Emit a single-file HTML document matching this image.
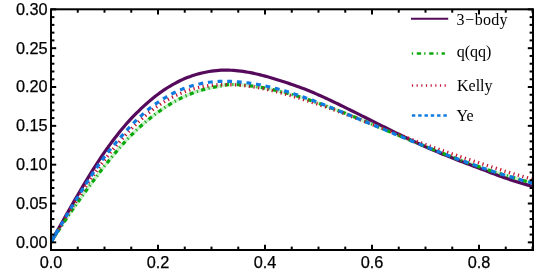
<!DOCTYPE html>
<html><head><meta charset="utf-8"><title>plot</title>
<style>
html,body{margin:0;padding:0;background:#fff;}
body{width:556px;height:278px;overflow:hidden;}
svg{display:block;will-change:transform;}
.tk text{font-family:"Liberation Sans",sans-serif;font-size:16.3px;fill:#000;stroke:#000;stroke-width:0.25px;}
.lg text{font-family:"Liberation Serif",serif;font-size:16px;fill:#000;}
</style></head><body>
<svg width="556" height="278" viewBox="0 0 556 278">
<rect width="556" height="278" fill="#fff"/>
<defs><clipPath id="cp"><rect x="51.0" y="9.3" width="482.0" height="240.7"/></clipPath></defs>
<g clip-path="url(#cp)" fill="none" stroke-linejoin="round">
<path d="M51.00 242.00 L53.43 238.29 L55.87 234.56 L58.30 230.83 L60.73 227.11 L63.17 223.41 L65.60 219.75 L68.03 216.15 L70.46 212.62 L72.90 209.13 L75.33 205.67 L77.76 202.24 L80.20 198.83 L82.63 195.45 L85.06 192.09 L87.50 188.76 L89.93 185.44 L92.36 182.15 L94.79 178.87 L97.23 175.61 L99.66 172.40 L102.09 169.22 L104.53 166.08 L106.96 162.99 L109.39 159.94 L111.83 156.95 L114.26 154.01 L116.69 151.12 L119.13 148.29 L121.56 145.53 L123.99 142.82 L126.42 140.18 L128.86 137.62 L131.29 135.12 L133.72 132.71 L136.16 130.36 L138.59 128.08 L141.02 125.87 L143.46 123.73 L145.89 121.65 L148.32 119.63 L150.75 117.68 L153.19 115.79 L155.62 113.95 L158.05 112.17 L160.49 110.45 L162.92 108.77 L165.35 107.14 L167.79 105.57 L170.22 104.07 L172.65 102.63 L175.09 101.25 L177.52 99.93 L179.95 98.68 L182.38 97.50 L184.82 96.37 L187.25 95.30 L189.68 94.28 L192.12 93.32 L194.55 92.41 L196.98 91.55 L199.42 90.76 L201.85 90.02 L204.28 89.34 L206.71 88.72 L209.15 88.16 L211.58 87.65 L214.01 87.19 L216.45 86.77 L218.88 86.37 L221.31 85.89 L223.75 85.38 L226.18 84.93 L228.61 84.62 L231.04 84.52 L233.48 84.51 L235.91 84.56 L238.34 84.66 L240.78 84.81 L243.21 85.00 L245.64 85.23 L248.08 85.50 L250.51 85.80 L252.94 86.13 L255.38 86.48 L257.81 86.85 L260.24 87.24 L262.67 87.64 L265.11 88.08 L267.54 88.54 L269.97 89.03 L272.41 89.55 L274.84 90.09 L277.27 90.66 L279.71 91.25 L282.14 91.86 L284.57 92.50 L287.00 93.16 L289.44 93.83 L291.87 94.53 L294.30 95.24 L296.74 95.98 L299.17 96.73 L301.60 97.49 L304.04 98.27 L306.47 99.07 L308.90 99.88 L311.34 100.70 L313.77 101.54 L316.20 102.39 L318.63 103.25 L321.07 104.13 L323.50 105.01 L325.93 105.90 L328.37 106.80 L330.80 107.72 L333.23 108.63 L335.67 109.56 L338.10 110.50 L340.53 111.44 L342.96 112.39 L345.40 113.35 L347.83 114.31 L350.26 115.29 L352.70 116.27 L355.13 117.25 L357.56 118.24 L360.00 119.24 L362.43 120.24 L364.86 121.25 L367.30 122.26 L369.73 123.27 L372.16 124.29 L374.59 125.31 L377.03 126.33 L379.46 127.35 L381.89 128.38 L384.33 129.40 L386.76 130.42 L389.19 131.45 L391.63 132.47 L394.06 133.50 L396.49 134.52 L398.92 135.54 L401.36 136.56 L403.79 137.58 L406.22 138.59 L408.66 139.60 L411.09 140.61 L413.52 141.61 L415.96 142.61 L418.39 143.61 L420.82 144.60 L423.26 145.59 L425.69 146.57 L428.12 147.55 L430.55 148.52 L432.99 149.49 L435.42 150.46 L437.85 151.42 L440.29 152.38 L442.72 153.33 L445.15 154.28 L447.59 155.22 L450.02 156.16 L452.45 157.08 L454.88 158.01 L457.32 158.92 L459.75 159.83 L462.18 160.74 L464.62 161.63 L467.05 162.52 L469.48 163.40 L471.92 164.27 L474.35 165.13 L476.78 165.99 L479.22 166.84 L481.65 167.69 L484.08 168.52 L486.51 169.35 L488.95 170.17 L491.38 170.98 L493.81 171.78 L496.25 172.56 L498.68 173.33 L501.11 174.07 L503.55 174.80 L505.98 175.52 L508.41 176.23 L510.84 176.93 L513.28 177.63 L515.71 178.32 L518.14 179.02 L520.58 179.73 L523.01 180.43 L525.44 181.13 L527.88 181.81 L530.31 182.49 L532.74 183.16 L535.17 183.82" stroke="#c9f1c9" stroke-width="3.4"/>
<path d="M51.00 242.00 L53.43 237.71 L55.87 233.40 L58.30 229.09 L60.73 224.77 L63.17 220.46 L65.60 216.16 L68.03 211.87 L70.46 207.60 L72.90 203.36 L75.33 199.14 L77.76 194.95 L80.20 190.79 L82.63 186.67 L85.06 182.60 L87.50 178.58 L89.93 174.61 L92.36 170.70 L94.79 166.85 L97.23 163.07 L99.66 159.37 L102.09 155.75 L104.53 152.21 L106.96 148.74 L109.39 145.36 L111.83 142.05 L114.26 138.82 L116.69 135.67 L119.13 132.59 L121.56 129.59 L123.99 126.67 L126.42 123.83 L128.86 121.08 L131.29 118.44 L133.72 115.88 L136.16 113.41 L138.59 111.02 L141.02 108.70 L143.46 106.44 L145.89 104.25 L148.32 102.10 L150.75 100.01 L153.19 97.98 L155.62 96.04 L158.05 94.18 L160.49 92.40 L162.92 90.69 L165.35 89.07 L167.79 87.52 L170.22 86.04 L172.65 84.62 L175.09 83.28 L177.52 82.00 L179.95 80.79 L182.38 79.66 L184.82 78.59 L187.25 77.59 L189.68 76.66 L192.12 75.80 L194.55 75.01 L196.98 74.29 L199.42 73.62 L201.85 73.01 L204.28 72.46 L206.71 71.96 L209.15 71.53 L211.58 71.15 L214.01 70.83 L216.45 70.57 L218.88 70.37 L221.31 70.22 L223.75 70.13 L226.18 70.11 L228.61 70.14 L231.04 70.23 L233.48 70.37 L235.91 70.57 L238.34 70.81 L240.78 71.10 L243.21 71.43 L245.64 71.81 L248.08 72.22 L250.51 72.68 L252.94 73.17 L255.38 73.70 L257.81 74.26 L260.24 74.85 L262.67 75.48 L265.11 76.13 L267.54 76.80 L269.97 77.50 L272.41 78.22 L274.84 78.97 L277.27 79.72 L279.71 80.49 L282.14 81.26 L284.57 82.04 L287.00 82.83 L289.44 83.64 L291.87 84.46 L294.30 85.30 L296.74 86.16 L299.17 87.03 L301.60 87.93 L304.04 88.85 L306.47 89.79 L308.90 90.76 L311.34 91.76 L313.77 92.79 L316.20 93.85 L318.63 94.92 L321.07 96.02 L323.50 97.13 L325.93 98.25 L328.37 99.38 L330.80 100.53 L333.23 101.69 L335.67 102.86 L338.10 104.03 L340.53 105.22 L342.96 106.41 L345.40 107.61 L347.83 108.81 L350.26 110.01 L352.70 111.22 L355.13 112.43 L357.56 113.64 L360.00 114.85 L362.43 116.06 L364.86 117.28 L367.30 118.49 L369.73 119.71 L372.16 120.93 L374.59 122.15 L377.03 123.37 L379.46 124.59 L381.89 125.81 L384.33 127.03 L386.76 128.24 L389.19 129.45 L391.63 130.66 L394.06 131.86 L396.49 133.06 L398.92 134.25 L401.36 135.44 L403.79 136.62 L406.22 137.80 L408.66 138.97 L411.09 140.13 L413.52 141.28 L415.96 142.42 L418.39 143.55 L420.82 144.68 L423.26 145.79 L425.69 146.90 L428.12 147.98 L430.55 149.05 L432.99 150.09 L435.42 151.12 L437.85 152.14 L440.29 153.15 L442.72 154.15 L445.15 155.14 L447.59 156.12 L450.02 157.10 L452.45 158.07 L454.88 159.03 L457.32 159.98 L459.75 160.92 L462.18 161.84 L464.62 162.76 L467.05 163.68 L469.48 164.59 L471.92 165.50 L474.35 166.41 L476.78 167.33 L479.22 168.25 L481.65 169.19 L484.08 170.12 L486.51 171.06 L488.95 172.00 L491.38 172.93 L493.81 173.85 L496.25 174.76 L498.68 175.65 L501.11 176.52 L503.55 177.38 L505.98 178.25 L508.41 179.10 L510.84 179.94 L513.28 180.75 L515.71 181.54 L518.14 182.30 L520.58 183.02 L523.01 183.72 L525.44 184.41 L527.88 185.09 L530.31 185.75 L532.74 186.41 L535.17 187.05" stroke="#560a5c" stroke-width="3.2"/>
<path d="M51.00 242.00 L53.43 238.29 L55.87 234.56 L58.30 230.83 L60.73 227.11 L63.17 223.41 L65.60 219.75 L68.03 216.15 L70.46 212.62 L72.90 209.13 L75.33 205.67 L77.76 202.24 L80.20 198.83 L82.63 195.45 L85.06 192.09 L87.50 188.76 L89.93 185.44 L92.36 182.15 L94.79 178.87 L97.23 175.61 L99.66 172.40 L102.09 169.22 L104.53 166.08 L106.96 162.99 L109.39 159.94 L111.83 156.95 L114.26 154.01 L116.69 151.12 L119.13 148.29 L121.56 145.53 L123.99 142.82 L126.42 140.18 L128.86 137.62 L131.29 135.12 L133.72 132.71 L136.16 130.36 L138.59 128.08 L141.02 125.87 L143.46 123.73 L145.89 121.65 L148.32 119.63 L150.75 117.68 L153.19 115.79 L155.62 113.95 L158.05 112.17 L160.49 110.45 L162.92 108.77 L165.35 107.14 L167.79 105.57 L170.22 104.07 L172.65 102.63 L175.09 101.25 L177.52 99.93 L179.95 98.68 L182.38 97.50 L184.82 96.37 L187.25 95.30 L189.68 94.28 L192.12 93.32 L194.55 92.41 L196.98 91.55 L199.42 90.76 L201.85 90.02 L204.28 89.34 L206.71 88.72 L209.15 88.16 L211.58 87.65 L214.01 87.19 L216.45 86.77 L218.88 86.37 L221.31 85.89 L223.75 85.38 L226.18 84.93 L228.61 84.62 L231.04 84.52 L233.48 84.51 L235.91 84.56 L238.34 84.66 L240.78 84.81 L243.21 85.00 L245.64 85.23 L248.08 85.50 L250.51 85.80 L252.94 86.13 L255.38 86.48 L257.81 86.85 L260.24 87.24 L262.67 87.64 L265.11 88.08 L267.54 88.54 L269.97 89.03 L272.41 89.55 L274.84 90.09 L277.27 90.66 L279.71 91.25 L282.14 91.86 L284.57 92.50 L287.00 93.16 L289.44 93.83 L291.87 94.53 L294.30 95.24 L296.74 95.98 L299.17 96.73 L301.60 97.49 L304.04 98.27 L306.47 99.07 L308.90 99.88 L311.34 100.70 L313.77 101.54 L316.20 102.39 L318.63 103.25 L321.07 104.13 L323.50 105.01 L325.93 105.90 L328.37 106.80 L330.80 107.72 L333.23 108.63 L335.67 109.56 L338.10 110.50 L340.53 111.44 L342.96 112.39 L345.40 113.35 L347.83 114.31 L350.26 115.29 L352.70 116.27 L355.13 117.25 L357.56 118.24 L360.00 119.24 L362.43 120.24 L364.86 121.25 L367.30 122.26 L369.73 123.27 L372.16 124.29 L374.59 125.31 L377.03 126.33 L379.46 127.35 L381.89 128.38 L384.33 129.40 L386.76 130.42 L389.19 131.45 L391.63 132.47 L394.06 133.50 L396.49 134.52 L398.92 135.54 L401.36 136.56 L403.79 137.58 L406.22 138.59 L408.66 139.60 L411.09 140.61 L413.52 141.61 L415.96 142.61 L418.39 143.61 L420.82 144.60 L423.26 145.59 L425.69 146.57 L428.12 147.55 L430.55 148.52 L432.99 149.49 L435.42 150.46 L437.85 151.42 L440.29 152.38 L442.72 153.33 L445.15 154.28 L447.59 155.22 L450.02 156.16 L452.45 157.08 L454.88 158.01 L457.32 158.92 L459.75 159.83 L462.18 160.74 L464.62 161.63 L467.05 162.52 L469.48 163.40 L471.92 164.27 L474.35 165.13 L476.78 165.99 L479.22 166.84 L481.65 167.69 L484.08 168.52 L486.51 169.35 L488.95 170.17 L491.38 170.98 L493.81 171.78 L496.25 172.56 L498.68 173.33 L501.11 174.07 L503.55 174.80 L505.98 175.52 L508.41 176.23 L510.84 176.93 L513.28 177.63 L515.71 178.32 L518.14 179.02 L520.58 179.73 L523.01 180.43 L525.44 181.13 L527.88 181.81 L530.31 182.49 L532.74 183.16 L535.17 183.82" stroke="#0aa80a" stroke-width="3.2" stroke-dasharray="4.1 3.45 1.1 3.45"/>
<path d="M51.00 242.00 L53.43 237.95 L55.87 233.90 L58.30 229.85 L60.73 225.81 L63.17 221.79 L65.60 217.82 L68.03 213.89 L70.46 210.03 L72.90 206.20 L75.33 202.39 L77.76 198.61 L80.20 194.85 L82.63 191.13 L85.06 187.45 L87.50 183.81 L89.93 180.21 L92.36 176.66 L94.79 173.16 L97.23 169.72 L99.66 166.37 L102.09 163.11 L104.53 159.92 L106.96 156.81 L109.39 153.77 L111.83 150.79 L114.26 147.88 L116.69 145.02 L119.13 142.21 L121.56 139.45 L123.99 136.73 L126.42 134.05 L128.86 131.44 L131.29 128.90 L133.72 126.43 L136.16 124.04 L138.59 121.72 L141.02 119.48 L143.46 117.31 L145.89 115.22 L148.32 113.20 L150.75 111.26 L153.19 109.39 L155.62 107.59 L158.05 105.87 L160.49 104.21 L162.92 102.64 L165.35 101.13 L167.79 99.70 L170.22 98.34 L172.65 97.05 L175.09 95.84 L177.52 94.70 L179.95 93.63 L182.38 92.62 L184.82 91.69 L187.25 90.81 L189.68 90.00 L192.12 89.26 L194.55 88.57 L196.98 87.94 L199.42 87.37 L201.85 86.85 L204.28 86.40 L206.71 86.01 L209.15 85.67 L211.58 85.38 L214.01 85.15 L216.45 84.96 L218.88 84.82 L221.31 84.73 L223.75 84.67 L226.18 84.64 L228.61 84.66 L231.04 84.70 L233.48 84.78 L235.91 84.91 L238.34 85.07 L240.78 85.26 L243.21 85.50 L245.64 85.76 L248.08 86.07 L250.51 86.40 L252.94 86.77 L255.38 87.16 L257.81 87.59 L260.24 88.04 L262.67 88.52 L265.11 89.03 L267.54 89.56 L269.97 90.11 L272.41 90.69 L274.84 91.29 L277.27 91.91 L279.71 92.55 L282.14 93.21 L284.57 93.89 L287.00 94.59 L289.44 95.29 L291.87 96.01 L294.30 96.73 L296.74 97.46 L299.17 98.20 L301.60 98.95 L304.04 99.71 L306.47 100.48 L308.90 101.26 L311.34 102.05 L313.77 102.84 L316.20 103.65 L318.63 104.47 L321.07 105.29 L323.50 106.13 L325.93 106.97 L328.37 107.83 L330.80 108.70 L333.23 109.57 L335.67 110.46 L338.10 111.36 L340.53 112.28 L342.96 113.19 L345.40 114.12 L347.83 115.04 L350.26 115.97 L352.70 116.90 L355.13 117.83 L357.56 118.76 L360.00 119.69 L362.43 120.63 L364.86 121.56 L367.30 122.50 L369.73 123.43 L372.16 124.37 L374.59 125.30 L377.03 126.23 L379.46 127.16 L381.89 128.09 L384.33 129.03 L386.76 129.96 L389.19 130.89 L391.63 131.82 L394.06 132.75 L396.49 133.67 L398.92 134.60 L401.36 135.52 L403.79 136.45 L406.22 137.37 L408.66 138.28 L411.09 139.20 L413.52 140.13 L415.96 141.06 L418.39 142.00 L420.82 142.93 L423.26 143.84 L425.69 144.72 L428.12 145.59 L430.55 146.46 L432.99 147.32 L435.42 148.18 L437.85 149.03 L440.29 149.88 L442.72 150.72 L445.15 151.56 L447.59 152.39 L450.02 153.21 L452.45 154.04 L454.88 154.86 L457.32 155.67 L459.75 156.48 L462.18 157.29 L464.62 158.09 L467.05 158.89 L469.48 159.68 L471.92 160.48 L474.35 161.27 L476.78 162.07 L479.22 162.87 L481.65 163.67 L484.08 164.48 L486.51 165.27 L488.95 166.07 L491.38 166.87 L493.81 167.66 L496.25 168.44 L498.68 169.22 L501.11 169.99 L503.55 170.76 L505.98 171.52 L508.41 172.27 L510.84 173.01 L513.28 173.74 L515.71 174.46 L518.14 175.16 L520.58 175.86 L523.01 176.54 L525.44 177.22 L527.88 177.90 L530.31 178.57 L532.74 179.24 L535.17 179.90" stroke="#c01434" stroke-width="3.4" stroke-dasharray="1.25 3.4"/>
<path d="M51.00 242.00 L53.43 237.88 L55.87 233.75 L58.30 229.62 L60.73 225.48 L63.17 221.35 L65.60 217.23 L68.03 213.14 L70.46 209.08 L72.90 205.04 L75.33 201.03 L77.76 197.04 L80.20 193.09 L82.63 189.17 L85.06 185.31 L87.50 181.49 L89.93 177.73 L92.36 174.03 L94.79 170.40 L97.23 166.85 L99.66 163.41 L102.09 160.07 L104.53 156.83 L106.96 153.68 L109.39 150.60 L111.83 147.60 L114.26 144.66 L116.69 141.77 L119.13 138.94 L121.56 136.14 L123.99 133.37 L126.42 130.64 L128.86 127.98 L131.29 125.40 L133.72 122.89 L136.16 120.47 L138.59 118.12 L141.02 115.86 L143.46 113.67 L145.89 111.56 L148.32 109.54 L150.75 107.59 L153.19 105.72 L155.62 103.92 L158.05 102.21 L160.49 100.57 L162.92 99.01 L165.35 97.52 L167.79 96.10 L170.22 94.76 L172.65 93.49 L175.09 92.29 L177.52 91.16 L179.95 90.10 L182.38 89.11 L184.82 88.18 L187.25 87.32 L189.68 86.52 L192.12 85.78 L194.55 85.11 L196.98 84.49 L199.42 83.94 L201.85 83.44 L204.28 82.99 L206.71 82.60 L209.15 82.27 L211.58 81.99 L214.01 81.75 L216.45 81.57 L218.88 81.43 L221.31 81.34 L223.75 81.30 L226.18 81.30 L228.61 81.34 L231.04 81.43 L233.48 81.54 L235.91 81.69 L238.34 81.88 L240.78 82.09 L243.21 82.34 L245.64 82.62 L248.08 82.93 L250.51 83.27 L252.94 83.64 L255.38 84.03 L257.81 84.46 L260.24 84.92 L262.67 85.40 L265.11 85.91 L267.54 86.45 L269.97 87.01 L272.41 87.59 L274.84 88.19 L277.27 88.82 L279.71 89.47 L282.14 90.14 L284.57 90.84 L287.00 91.57 L289.44 92.33 L291.87 93.10 L294.30 93.90 L296.74 94.71 L299.17 95.54 L301.60 96.39 L304.04 97.25 L306.47 98.13 L308.90 99.02 L311.34 99.92 L313.77 100.84 L316.20 101.76 L318.63 102.70 L321.07 103.64 L323.50 104.60 L325.93 105.56 L328.37 106.53 L330.80 107.50 L333.23 108.48 L335.67 109.46 L338.10 110.44 L340.53 111.43 L342.96 112.42 L345.40 113.42 L347.83 114.41 L350.26 115.42 L352.70 116.42 L355.13 117.43 L357.56 118.44 L360.00 119.45 L362.43 120.47 L364.86 121.48 L367.30 122.50 L369.73 123.51 L372.16 124.53 L374.59 125.55 L377.03 126.57 L379.46 127.58 L381.89 128.60 L384.33 129.62 L386.76 130.63 L389.19 131.65 L391.63 132.66 L394.06 133.67 L396.49 134.68 L398.92 135.69 L401.36 136.69 L403.79 137.70 L406.22 138.70 L408.66 139.70 L411.09 140.69 L413.52 141.68 L415.96 142.67 L418.39 143.66 L420.82 144.64 L423.26 145.62 L425.69 146.60 L428.12 147.57 L430.55 148.54 L432.99 149.50 L435.42 150.46 L437.85 151.42 L440.29 152.37 L442.72 153.32 L445.15 154.26 L447.59 155.19 L450.02 156.13 L452.45 157.05 L454.88 157.97 L457.32 158.88 L459.75 159.79 L462.18 160.69 L464.62 161.58 L467.05 162.46 L469.48 163.34 L471.92 164.21 L474.35 165.08 L476.78 165.93 L479.22 166.78 L481.65 167.63 L484.08 168.46 L486.51 169.29 L488.95 170.11 L491.38 170.92 L493.81 171.72 L496.25 172.51 L498.68 173.28 L501.11 174.03 L503.55 174.77 L505.98 175.49 L508.41 176.20 L510.84 176.91 L513.28 177.61 L515.71 178.32 L518.14 179.02 L520.58 179.74 L523.01 180.45 L525.44 181.15 L527.88 181.85 L530.31 182.53 L532.74 183.21 L535.17 183.89" stroke="#0f7ae0" stroke-width="3.2" stroke-dasharray="4.85 4.8"/>
<path d="M51.00 242.00 L53.43 237.88 L55.87 233.75 L58.30 229.62" stroke="#0f7ae0" stroke-width="3.2"/>
</g>
<g stroke="#000" stroke-width="2" fill="none">
<line x1="51.00" y1="250.00" x2="51.00" y2="244.80"/>
<line x1="51.00" y1="9.30" x2="51.00" y2="14.50"/>
<line x1="77.75" y1="250.00" x2="77.75" y2="246.60"/>
<line x1="77.75" y1="9.30" x2="77.75" y2="12.70"/>
<line x1="104.50" y1="250.00" x2="104.50" y2="246.60"/>
<line x1="104.50" y1="9.30" x2="104.50" y2="12.70"/>
<line x1="131.25" y1="250.00" x2="131.25" y2="246.60"/>
<line x1="131.25" y1="9.30" x2="131.25" y2="12.70"/>
<line x1="158.00" y1="250.00" x2="158.00" y2="244.80"/>
<line x1="158.00" y1="9.30" x2="158.00" y2="14.50"/>
<line x1="184.75" y1="250.00" x2="184.75" y2="246.60"/>
<line x1="184.75" y1="9.30" x2="184.75" y2="12.70"/>
<line x1="211.50" y1="250.00" x2="211.50" y2="246.60"/>
<line x1="211.50" y1="9.30" x2="211.50" y2="12.70"/>
<line x1="238.25" y1="250.00" x2="238.25" y2="246.60"/>
<line x1="238.25" y1="9.30" x2="238.25" y2="12.70"/>
<line x1="265.00" y1="250.00" x2="265.00" y2="244.80"/>
<line x1="265.00" y1="9.30" x2="265.00" y2="14.50"/>
<line x1="291.75" y1="250.00" x2="291.75" y2="246.60"/>
<line x1="291.75" y1="9.30" x2="291.75" y2="12.70"/>
<line x1="318.50" y1="250.00" x2="318.50" y2="246.60"/>
<line x1="318.50" y1="9.30" x2="318.50" y2="12.70"/>
<line x1="345.25" y1="250.00" x2="345.25" y2="246.60"/>
<line x1="345.25" y1="9.30" x2="345.25" y2="12.70"/>
<line x1="372.00" y1="250.00" x2="372.00" y2="244.80"/>
<line x1="372.00" y1="9.30" x2="372.00" y2="14.50"/>
<line x1="398.75" y1="250.00" x2="398.75" y2="246.60"/>
<line x1="398.75" y1="9.30" x2="398.75" y2="12.70"/>
<line x1="425.50" y1="250.00" x2="425.50" y2="246.60"/>
<line x1="425.50" y1="9.30" x2="425.50" y2="12.70"/>
<line x1="452.25" y1="250.00" x2="452.25" y2="246.60"/>
<line x1="452.25" y1="9.30" x2="452.25" y2="12.70"/>
<line x1="479.00" y1="250.00" x2="479.00" y2="244.80"/>
<line x1="479.00" y1="9.30" x2="479.00" y2="14.50"/>
<line x1="505.75" y1="250.00" x2="505.75" y2="246.60"/>
<line x1="505.75" y1="9.30" x2="505.75" y2="12.70"/>
<line x1="532.50" y1="250.00" x2="532.50" y2="246.60"/>
<line x1="532.50" y1="9.30" x2="532.50" y2="12.70"/>
<line x1="51.00" y1="242.35" x2="56.20" y2="242.35"/>
<line x1="533.00" y1="242.35" x2="527.80" y2="242.35"/>
<line x1="51.00" y1="234.58" x2="54.40" y2="234.58"/>
<line x1="533.00" y1="234.58" x2="529.60" y2="234.58"/>
<line x1="51.00" y1="226.82" x2="54.40" y2="226.82"/>
<line x1="533.00" y1="226.82" x2="529.60" y2="226.82"/>
<line x1="51.00" y1="219.05" x2="54.40" y2="219.05"/>
<line x1="533.00" y1="219.05" x2="529.60" y2="219.05"/>
<line x1="51.00" y1="211.28" x2="54.40" y2="211.28"/>
<line x1="533.00" y1="211.28" x2="529.60" y2="211.28"/>
<line x1="51.00" y1="203.52" x2="56.20" y2="203.52"/>
<line x1="533.00" y1="203.52" x2="527.80" y2="203.52"/>
<line x1="51.00" y1="195.75" x2="54.40" y2="195.75"/>
<line x1="533.00" y1="195.75" x2="529.60" y2="195.75"/>
<line x1="51.00" y1="187.98" x2="54.40" y2="187.98"/>
<line x1="533.00" y1="187.98" x2="529.60" y2="187.98"/>
<line x1="51.00" y1="180.22" x2="54.40" y2="180.22"/>
<line x1="533.00" y1="180.22" x2="529.60" y2="180.22"/>
<line x1="51.00" y1="172.45" x2="54.40" y2="172.45"/>
<line x1="533.00" y1="172.45" x2="529.60" y2="172.45"/>
<line x1="51.00" y1="164.68" x2="56.20" y2="164.68"/>
<line x1="533.00" y1="164.68" x2="527.80" y2="164.68"/>
<line x1="51.00" y1="156.92" x2="54.40" y2="156.92"/>
<line x1="533.00" y1="156.92" x2="529.60" y2="156.92"/>
<line x1="51.00" y1="149.15" x2="54.40" y2="149.15"/>
<line x1="533.00" y1="149.15" x2="529.60" y2="149.15"/>
<line x1="51.00" y1="141.38" x2="54.40" y2="141.38"/>
<line x1="533.00" y1="141.38" x2="529.60" y2="141.38"/>
<line x1="51.00" y1="133.62" x2="54.40" y2="133.62"/>
<line x1="533.00" y1="133.62" x2="529.60" y2="133.62"/>
<line x1="51.00" y1="125.85" x2="56.20" y2="125.85"/>
<line x1="533.00" y1="125.85" x2="527.80" y2="125.85"/>
<line x1="51.00" y1="118.08" x2="54.40" y2="118.08"/>
<line x1="533.00" y1="118.08" x2="529.60" y2="118.08"/>
<line x1="51.00" y1="110.32" x2="54.40" y2="110.32"/>
<line x1="533.00" y1="110.32" x2="529.60" y2="110.32"/>
<line x1="51.00" y1="102.55" x2="54.40" y2="102.55"/>
<line x1="533.00" y1="102.55" x2="529.60" y2="102.55"/>
<line x1="51.00" y1="94.78" x2="54.40" y2="94.78"/>
<line x1="533.00" y1="94.78" x2="529.60" y2="94.78"/>
<line x1="51.00" y1="87.02" x2="56.20" y2="87.02"/>
<line x1="533.00" y1="87.02" x2="527.80" y2="87.02"/>
<line x1="51.00" y1="79.25" x2="54.40" y2="79.25"/>
<line x1="533.00" y1="79.25" x2="529.60" y2="79.25"/>
<line x1="51.00" y1="71.48" x2="54.40" y2="71.48"/>
<line x1="533.00" y1="71.48" x2="529.60" y2="71.48"/>
<line x1="51.00" y1="63.72" x2="54.40" y2="63.72"/>
<line x1="533.00" y1="63.72" x2="529.60" y2="63.72"/>
<line x1="51.00" y1="55.95" x2="54.40" y2="55.95"/>
<line x1="533.00" y1="55.95" x2="529.60" y2="55.95"/>
<line x1="51.00" y1="48.18" x2="56.20" y2="48.18"/>
<line x1="533.00" y1="48.18" x2="527.80" y2="48.18"/>
<line x1="51.00" y1="40.42" x2="54.40" y2="40.42"/>
<line x1="533.00" y1="40.42" x2="529.60" y2="40.42"/>
<line x1="51.00" y1="32.65" x2="54.40" y2="32.65"/>
<line x1="533.00" y1="32.65" x2="529.60" y2="32.65"/>
<line x1="51.00" y1="24.88" x2="54.40" y2="24.88"/>
<line x1="533.00" y1="24.88" x2="529.60" y2="24.88"/>
<line x1="51.00" y1="17.12" x2="54.40" y2="17.12"/>
<line x1="533.00" y1="17.12" x2="529.60" y2="17.12"/>
<line x1="51.00" y1="9.35" x2="56.20" y2="9.35"/>
<line x1="533.00" y1="9.35" x2="527.80" y2="9.35"/>
</g>
<rect x="51.0" y="9.3" width="482.0" height="240.7" fill="none" stroke="#000" stroke-width="2"/>
<g class="tk">
<text x="47.6" y="247.70" text-anchor="end">0.00</text>
<text x="47.6" y="208.87" text-anchor="end">0.05</text>
<text x="47.6" y="170.03" text-anchor="end">0.10</text>
<text x="47.6" y="131.20" text-anchor="end">0.15</text>
<text x="47.6" y="92.37" text-anchor="end">0.20</text>
<text x="47.6" y="53.53" text-anchor="end">0.25</text>
<text x="47.6" y="14.70" text-anchor="end">0.30</text>
<text x="51.00" y="268" text-anchor="middle">0.0</text>
<text x="158.00" y="268" text-anchor="middle">0.2</text>
<text x="265.00" y="268" text-anchor="middle">0.4</text>
<text x="372.00" y="268" text-anchor="middle">0.6</text>
<text x="479.00" y="268" text-anchor="middle">0.8</text>
</g>
<g class="lg" fill="none">
<line x1="411" y1="18.7" x2="448.2" y2="18.7" stroke="#560a5c" stroke-width="2"/>
<text y="25"><tspan x="456.5">3</tspan><tspan x="465.3">−</tspan><tspan x="474.8" letter-spacing="0.25">body</tspan></text>
<line x1="411.8" y1="53.5" x2="444.9" y2="53.5" stroke="#0aa80a" stroke-width="2.3" stroke-dasharray="1.3 3.7 4.3 3.1" />
<text x="456.7" y="57.4">q(qq)</text>
<line x1="411.9" y1="85.5" x2="446" y2="85.5" stroke="#c4183a" stroke-width="2.6" stroke-dasharray="1.2 3.47"/>
<text x="457" y="91">Kelly</text>
<line x1="411.9" y1="115.5" x2="447" y2="115.5" stroke="#0f7ae0" stroke-width="2.4" stroke-dasharray="3.4 2.9"/>
<text x="456.5" y="121">Ye</text>
</g>
</svg>
</body></html>
